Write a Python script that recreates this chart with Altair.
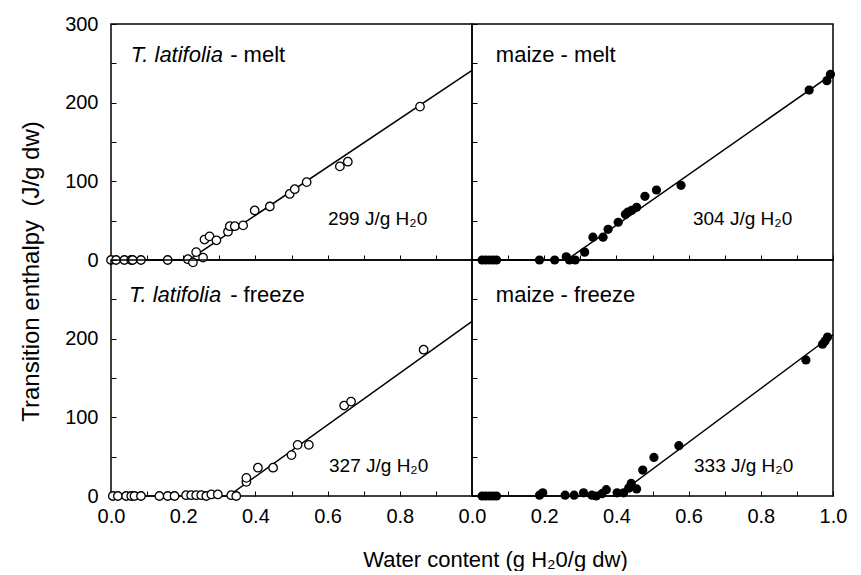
import altair as alt
import pandas as pd

# ---------------- data ----------------
# T. latifolia - melt (open circles)
tl_melt_x = [0.0, 0.014, 0.037, 0.056, 0.060, 0.083, 0.157, 0.213, 0.227, 0.236, 0.255, 0.259,
             0.273, 0.292, 0.324, 0.329, 0.343, 0.366, 0.398, 0.440, 0.495, 0.509, 0.542, 0.634,
             0.656, 0.856]
tl_melt_y = [0, 0, 0, 0, 0, 0, 0, 1, -3, 10, 3, 26,
             30, 25, 36, 43, 43, 44, 63, 68, 84, 90, 99, 119,
             125, 195]

# maize - melt (filled circles)
mz_melt_x = [0.028, 0.038, 0.048, 0.058, 0.068, 0.187, 0.229, 0.261, 0.270, 0.286, 0.312, 0.335,
             0.363, 0.377, 0.405, 0.425, 0.432, 0.442, 0.456, 0.479, 0.511, 0.579, 0.934, 0.983,
             0.993]
mz_melt_y = [0, 0, 0, 0, 0, 0, 0, 4, 0, 0, 10, 29,
             29, 39, 48, 58, 61, 63, 67, 81, 89, 95, 216, 228,
             236]

# T. latifolia - freeze (open circles)
tl_freeze_x = [0.005, 0.019, 0.042, 0.056, 0.065, 0.083, 0.134, 0.157, 0.176, 0.208, 0.222, 0.236,
               0.250, 0.264, 0.278, 0.296, 0.333, 0.347, 0.375, 0.375, 0.407, 0.449, 0.500, 0.517,
               0.548, 0.646, 0.665, 0.866]
tl_freeze_y = [0, 0, 0, 0, 0, 0, 0, 0, 0, 1, 1, 1,
               1, 0, 2, 2, 1, 0, 18, 23, 36, 36, 52, 65,
               65, 115, 120, 186]

# maize - freeze (filled circles)
mz_freeze_x = [0.028, 0.038, 0.048, 0.058, 0.068, 0.187, 0.196, 0.258, 0.283, 0.309, 0.332, 0.344,
               0.360, 0.372, 0.402, 0.420, 0.434, 0.441, 0.456, 0.473, 0.504, 0.573, 0.925, 0.971,
               0.978, 0.985]
mz_freeze_y = [0, 0, 0, 0, 0, 1, 4, 1, 1, 4, 1, 0,
               3, 8, 4, 4, 10, 16, 9, 33, 49, 64, 173, 193,
               197, 202]

# fitted lines (break point and end value)
tl_melt_fit_x = [0.0, 0.215, 1.0]
tl_melt_fit_y = [0, 0, 241]
mz_melt_fit_x = [0.0, 0.262, 1.0]
mz_melt_fit_y = [0, 0, 237]
tl_freeze_fit_x = [0.0, 0.325, 1.0]
tl_freeze_fit_y = [0, 0, 222]
mz_freeze_fit_x = [0.0, 0.40, 1.0]
mz_freeze_fit_y = [0, 0, 205]

# annotations
slope_labels = ["299 J/g H\u20820", "304 J/g H\u20820", "327 J/g H\u20820", "333 J/g H\u20820"]
x_ticks = [0.0, 0.1, 0.2, 0.3, 0.4, 0.5, 0.6, 0.7, 0.8, 0.9, 1.0]
y_ticks = [0, 50, 100, 150, 200, 250, 300]

FONT = "Liberation Sans"
W, H = 361, 236


def x_axis(kind):
    common = dict(values=x_ticks, tickSize=5, offset=-5, domain=False, grid=False,
                  tickColor="black", tickWidth=1, labelFont=FONT, labelFontSize=20,
                  labelColor="black", labelPadding=10, labelFlush=False, labelOverlap=False,
                  labelBound=False, format=".1f")
    if kind == "top":
        return alt.Axis(labels=False, title=None, **common)
    if kind == "bl":
        return alt.Axis(labelExpr="round(datum.value*10) % 2 == 0 && datum.value < 0.95 ? datum.label : ''",
                        title="Water content (g H\u20820/g dw)", titleX=384, titleFont=FONT,
                        titleFontSize=22, titleFontWeight="normal", titleColor="black",
                        titlePadding=23, **common)
    return alt.Axis(labelExpr="round(datum.value*10) % 2 == 0 ? datum.label : ''", title=None, **common)


def y_axis(kind):
    common = dict(values=y_ticks, tickSize=5, offset=-5, domain=False, grid=False,
                  tickColor="black", tickWidth=1, labelFont=FONT, labelFontSize=20,
                  labelColor="black", labelPadding=13, labelOverlap=False, labelBound=False,
                  labelFlush=False)
    if kind == "right":
        return alt.Axis(labels=False, title=None, **common)
    if kind == "tl":
        return alt.Axis(labelExpr="datum.value % 100 == 0 ? datum.label : ''",
                        title="Transition enthalpy \u00a0(J/g dw)", titleY=247, titleFont=FONT,
                        titleFontSize=24, titleFontWeight="normal", titleColor="black",
                        titlePadding=21, **common)
    return alt.Axis(labelExpr="datum.value % 100 == 0 && datum.value < 250 ? datum.label : ''",
                    title=None, **common)


def panel(px, py, fx, fy, filled, xkind, ykind, texts):
    X = alt.X("x:Q", scale=alt.Scale(domain=[0, 1], nice=False, zero=False), axis=x_axis(xkind))
    Y = alt.Y("y:Q", scale=alt.Scale(domain=[0, 300], nice=False), axis=y_axis(ykind))
    fit = alt.Chart(pd.DataFrame({"x": fx, "y": fy})).mark_line(
        color="black", strokeWidth=1.5).encode(x=X, y=Y)
    pts_df = pd.DataFrame({"x": px, "y": py})
    if filled:
        pts = alt.Chart(pts_df).mark_point(shape="circle", filled=True, color="black",
                                           size=85, opacity=1).encode(x=X, y=Y)
    else:
        pts = alt.Chart(pts_df).mark_point(shape="circle", filled=True, fill="white",
                                           stroke="black", strokeWidth=1.3, size=72,
                                           opacity=1).encode(x=X, y=Y)
    layers = [fit, pts]
    for (tx, ty, t, size, style) in texts:
        layers.append(
            alt.Chart(pd.DataFrame({"x": [tx], "y": [ty], "t": [t]})).mark_text(
                align="left", baseline="alphabetic", font=FONT, fontSize=size,
                fontStyle=style, color="black").encode(x=X, y=Y, text="t:N"))
    return alt.layer(*layers).properties(width=W, height=H)


p1 = panel(tl_melt_x, tl_melt_y, tl_melt_fit_x, tl_melt_fit_y, False, "top", "tl",
           [(0.055, 251.7, "T. latifolia", 22, "italic"), (0.33, 251.7, "- melt", 22, "normal"),
            (0.601, 45, slope_labels[0], 19, "normal")])
p2 = panel(mz_melt_x, mz_melt_y, mz_melt_fit_x, mz_melt_fit_y, True, "top", "right",
           [(0.066, 251.7, "maize - melt", 22, "normal"),
            (0.612, 45, slope_labels[1], 19, "normal")])
p3 = panel(tl_freeze_x, tl_freeze_y, tl_freeze_fit_x, tl_freeze_fit_y, False, "bl", "bl",
           [(0.05, 246.6, "T. latifolia", 22, "italic"), (0.33, 246.6, "- freeze", 22, "normal"),
            (0.604, 31, slope_labels[2], 19, "normal")])
p4 = panel(mz_freeze_x, mz_freeze_y, mz_freeze_fit_x, mz_freeze_fit_y, True, "br", "right",
           [(0.066, 246.6, "maize - freeze", 22, "normal"),
            (0.615, 31, slope_labels[3], 19, "normal")])

chart = alt.concat(p1, p2, p3, p4, columns=2, spacing=0, bounds="flush").properties(
    padding={"left": 18, "top": 13, "right": 5, "bottom": 0},
    background="white",
).configure_view(stroke="black", strokeWidth=1.5)

chart.save("out.html", embed_options={"renderer": "svg", "actions": False})
